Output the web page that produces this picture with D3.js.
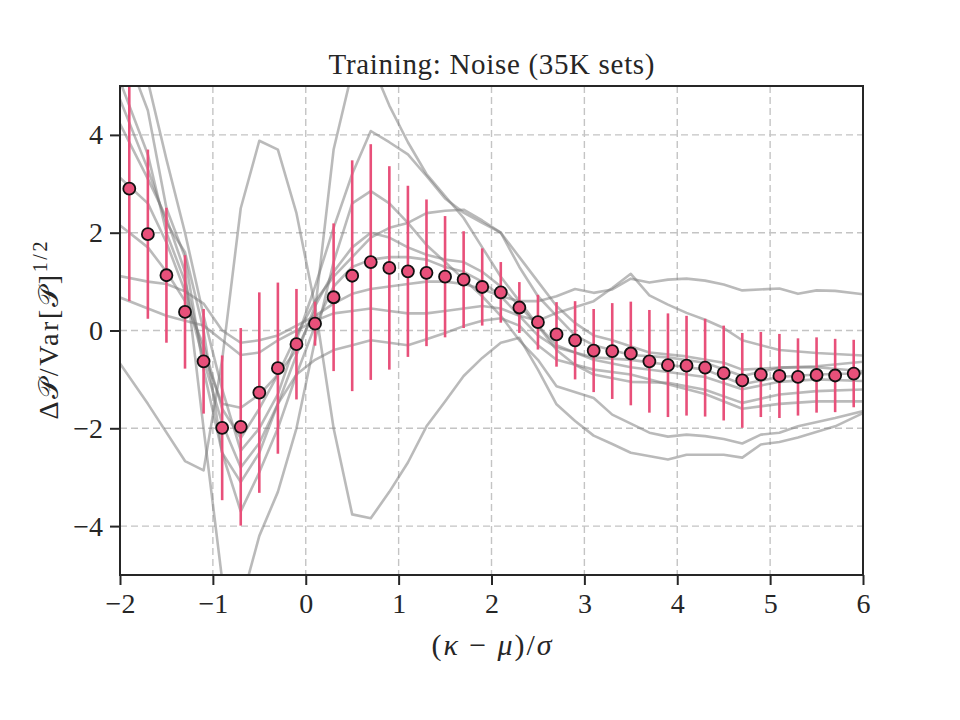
<!DOCTYPE html>
<html>
<head>
<meta charset="utf-8">
<script src="https://cdn.jsdelivr.net/npm/d3@7"></script>
<style>
  body { margin: 0; background: #fff; }
  text { font-family: "Liberation Serif", "DejaVu Serif", serif; fill: #262626; }
</style>
</head>
<body>
<script>
// bin centres and binned mean / 1-sigma spread
const binX = [-1.9, -1.7, -1.5, -1.3, -1.1, -0.9, -0.7, -0.5, -0.3, -0.1,
              0.1, 0.3, 0.5, 0.7, 0.9, 1.1, 1.3, 1.5, 1.7, 1.9,
              2.1, 2.3, 2.5, 2.7, 2.9, 3.1, 3.3, 3.5, 3.7, 3.9,
              4.1, 4.3, 4.5, 4.7, 4.9, 5.1, 5.3, 5.5, 5.7, 5.9];
const meanY = [2.90, 1.97, 1.13, 0.38, -0.63, -1.99, -1.97, -1.27, -0.77, -0.28,
               0.14, 0.68, 1.12, 1.40, 1.28, 1.21, 1.18, 1.10, 1.04, 0.89,
               0.78, 0.47, 0.17, -0.08, -0.20, -0.41, -0.42, -0.47, -0.63, -0.71,
               -0.72, -0.76, -0.87, -1.02, -0.90, -0.93, -0.95, -0.91, -0.92, -0.88];
const errY = [2.30, 1.73, 1.38, 1.16, 1.07, 1.48, 2.02, 2.05, 1.75, 1.13,
              0.45, 1.51, 2.36, 2.41, 2.08, 1.75, 1.50, 1.24, 0.99, 0.79,
              0.62, 0.52, 0.56, 0.66, 0.80, 0.85, 0.98, 1.06, 1.05, 1.06,
              1.02, 1.00, 0.97, 0.97, 0.87, 0.86, 0.79, 0.77, 0.75, 0.69];

// individual noise realisations (grey), [x, y] vertices
const noiseA = [[-2.1, -0.4], [-1.7, -1.5], [-1.3, -2.67], [-1.1, -2.86], [-0.9, -0.6], [-0.7, 2.5], [-0.5, 3.88],
  [-0.3, 3.7], [-0.1, 2.4], [0.1, 0.5], [0.3, -2.0], [0.5, -3.76], [0.7, -3.84], [0.9, -3.3], [1.1, -2.7],
  [1.3, -1.96], [1.5, -1.45], [1.7, -0.93], [1.9, -0.56], [2.1, -0.25], [2.3, -0.15], [2.5, -0.8], [2.7, -1.51],
  [2.9, -1.85], [3.1, -2.15], [3.3, -2.32], [3.5, -2.5], [3.9, -2.64], [4.1, -2.54], [4.5, -2.54], [4.7, -2.6],
  [4.9, -2.33], [5.1, -2.28], [5.3, -2.19], [5.7, -1.96], [6.1, -1.6]];
const noiseB = [[-2.1, 4.6], [-1.7, 3.1], [-1.5, 2.3], [-1.3, 1.2], [-1.1, -2.0], [-0.9, -5.1], [-0.7, -5.6],
  [-0.5, -4.2], [-0.3, -3.3], [-0.1, -2.0], [0.1, -0.2], [0.3, 1.4], [0.5, 2.6], [0.7, 2.85], [0.9, 2.6],
  [1.1, 2.2], [1.3, 1.75], [1.5, 1.4], [1.7, 1.05], [1.9, 0.7], [2.1, 0.3], [2.3, -0.2], [2.5, -0.6],
  [2.7, -1.14], [3.1, -1.38], [3.3, -1.72], [3.7, -2.09], [3.9, -2.17], [4.1, -2.13], [4.3, -2.16],
  [4.5, -2.22], [4.7, -2.31], [4.9, -2.13], [5.1, -2.09], [5.3, -1.96], [5.7, -1.79], [6.1, -1.6]];
const noiseC = [[-2.1, 5.6], [-1.7, 3.6], [-1.5, 2.0], [-1.3, 1.0], [-1.1, -0.5], [-0.9, -1.5], [-0.7, -1.58],
  [-0.5, -1.31], [-0.3, -0.9], [-0.1, -0.4], [0.1, 0.4], [0.3, 3.7], [0.5, 5.3], [0.7, 5.5], [0.9, 4.6],
  [1.1, 3.85], [1.3, 3.2], [1.5, 2.75], [1.7, 2.3], [1.9, 1.7], [2.1, 1.1], [2.3, 0.6], [2.5, 0.1],
  [2.7, -0.4], [2.9, -0.7], [3.1, -0.9], [3.5, -1.05], [3.9, -1.07], [4.3, -1.21], [4.7, -1.48],
  [5.1, -1.31], [5.5, -1.24], [6.1, -1.2]];
const noiseD = [[-2.1, 7.0], [-1.7, 5.1], [-1.5, 3.5], [-1.3, 2.0], [-1.1, 0.3], [-0.9, -1.2], [-0.7, -2.46],
  [-0.5, -2.0], [-0.3, -1.3], [-0.1, -0.2], [0.1, 0.9], [0.3, 2.1], [0.5, 3.2], [0.7, 4.08], [0.9, 3.85],
  [1.1, 3.6], [1.3, 3.16], [1.5, 2.7], [1.7, 2.41], [1.9, 2.2], [2.1, 2.0], [2.3, 1.3], [2.5, 0.7],
  [2.7, 0.3], [2.9, -0.1], [3.1, -0.3], [3.5, -0.5], [3.9, -0.55], [4.3, -0.66], [4.7, -0.93],
  [5.1, -0.76], [5.5, -0.73], [6.1, -0.62]];
const noiseE = [[-2.1, 2.3], [-1.7, 1.7], [-1.5, 1.2], [-1.3, 0.6], [-1.1, -0.3], [-0.9, -1.6], [-0.7, -2.2],
  [-0.5, -1.6], [-0.3, -0.9], [-0.1, -0.1], [0.1, 0.6], [0.3, 1.1], [0.5, 1.5], [0.7, 1.9], [0.9, 2.1],
  [1.1, 2.2], [1.3, 2.4], [1.5, 2.45], [1.7, 2.47], [1.9, 2.25], [2.1, 2.0], [2.3, 1.5], [2.5, 1.0],
  [2.7, 0.5], [2.9, 0.15], [3.1, -0.1], [3.3, -0.2], [3.7, -0.45], [4.1, -0.53], [4.5, -0.66],
  [4.7, -0.8], [5.1, -0.76], [5.5, -0.75], [6.1, -0.85]];
const noiseF = [[-2.1, 1.15], [-1.7, 1.0], [-1.5, 0.95], [-1.3, 0.8], [-1.1, 0.55], [-0.9, 0.0], [-0.7, -0.25],
  [-0.5, -0.2], [-0.3, -0.1], [-0.1, 0.1], [0.1, 0.3], [0.3, 0.55], [0.5, 0.75], [0.7, 0.85], [0.9, 0.9],
  [1.1, 0.95], [1.3, 1.0], [1.5, 1.0], [1.7, 0.95], [1.9, 0.85], [2.1, 0.7], [2.3, 0.6], [2.5, 0.6],
  [2.7, 0.7], [2.9, 0.85], [3.1, 0.77], [3.3, 0.84], [3.5, 1.06], [3.7, 0.98], [3.9, 1.04], [4.1, 1.06],
  [4.3, 1.02], [4.5, 0.94], [4.7, 0.82], [5.1, 0.86], [5.3, 0.75], [5.5, 0.82], [5.7, 0.81], [6.1, 0.72]];
const noiseG = [[-2.1, 0.75], [-1.7, 0.45], [-1.5, 0.3], [-1.3, 0.2], [-1.1, 0.1], [-0.9, -0.2], [-0.7, -0.5],
  [-0.5, -0.45], [-0.3, -0.2], [-0.1, 0.0], [0.1, 0.2], [0.3, 0.35], [0.5, 0.4], [0.7, 0.45], [0.9, 0.4],
  [1.1, 0.35], [1.3, 0.35], [1.5, 0.4], [1.7, 0.45], [1.9, 0.5], [2.1, 0.45], [2.3, 0.3], [2.5, 0.2],
  [2.7, 0.36], [3.1, 0.6], [3.3, 0.87], [3.5, 1.16], [3.7, 0.72], [3.9, 0.53], [4.1, 0.36], [4.3, 0.22],
  [4.5, 0.05], [4.7, -0.2], [5.1, -0.4], [5.5, -0.46], [6.1, -0.52]];
const noiseH = [[-2.1, 6.5], [-1.7, 4.5], [-1.5, 2.5], [-1.3, 1.5], [-1.1, -0.8], [-0.9, -2.5], [-0.7, -3.1],
  [-0.5, -2.5], [-0.3, -1.5], [-0.1, -0.5], [0.1, 0.5], [0.3, 1.2], [0.5, 1.7], [0.7, 2.0], [0.9, 1.9],
  [1.1, 1.7], [1.3, 1.55], [1.5, 1.45], [1.7, 1.4], [1.9, 1.2], [2.1, 0.9], [2.3, 0.5], [2.5, 0.1],
  [2.7, -0.3], [3.1, -0.6], [3.5, -0.75], [3.9, -0.85], [4.3, -0.95], [4.7, -1.2], [5.1, -1.05],
  [5.5, -1.0], [6.1, -1.04]];
const noiseI = [[-2.1, 5.2], [-1.7, 3.3], [-1.5, 2.2], [-1.3, 1.6], [-1.1, 0.0], [-0.9, -2.5], [-0.7, -3.7],
  [-0.5, -2.9], [-0.3, -2.0], [-0.1, -0.9], [0.1, 0.1], [0.3, 0.9], [0.5, 1.3], [0.7, 1.45], [0.9, 1.5],
  [1.1, 1.5], [1.3, 1.45], [1.5, 1.3], [1.7, 1.2], [1.9, 1.0], [2.1, 0.7], [2.3, 0.3], [2.5, -0.1],
  [2.7, -0.35], [3.1, -0.55], [3.5, -0.6], [3.9, -0.7], [4.3, -0.8], [4.7, -1.1], [5.1, -0.95],
  [5.5, -0.9], [6.1, -0.87]];
const noiseJ = [[-2.1, 3.3], [-1.7, 2.6], [-1.5, 1.8], [-1.3, 0.8], [-1.1, -0.6], [-0.9, -1.9], [-0.7, -2.8],
  [-0.5, -2.3], [-0.3, -1.5], [-0.1, -0.9], [0.1, -0.6], [0.3, -0.4], [0.5, -0.3], [0.7, -0.2], [0.9, -0.25],
  [1.1, -0.3], [1.3, -0.18], [1.5, -0.05], [1.7, 0.09], [1.9, 0.2], [2.1, 0.25], [2.3, 0.1], [2.5, -0.3],
  [2.7, -0.6], [3.1, -0.8], [3.5, -0.9], [3.9, -1.1], [4.3, -1.3], [4.7, -1.6], [5.1, -1.5],
  [5.5, -1.45], [6.1, -1.45]];
const noiseLines = [noiseA, noiseB, noiseC, noiseD, noiseE, noiseF, noiseG, noiseH, noiseI, noiseJ];

const xTicks = [-2, -1, 0, 1, 2, 3, 4, 5, 6];
const yTicks = [-4, -2, 0, 2, 4];

const W = 960, H = 720;
const margin = { top: 86, right: 97, bottom: 145, left: 120 };
const PINK = '#e8507a';
const FONT = '"Liberation Serif", "DejaVu Serif", serif';

const svg = d3.select('body').append('svg')
    .attr('width', W)
    .attr('height', H);

const x = d3.scaleLinear().domain([-2, 6]).range([margin.left, W - margin.right]);
const y = d3.scaleLinear().domain([-5, 5]).range([H - margin.bottom, margin.top]);

svg.append('clipPath').attr('id', 'plot-clip')
  .append('rect')
    .attr('x', x(-2)).attr('y', y(5))
    .attr('width', x(6) - x(-2)).attr('height', y(-5) - y(5));

// dashed grid
const grid = svg.append('g').attr('stroke', '#c4c4c4').attr('stroke-width', 1.4).attr('stroke-dasharray', '7,4');
grid.selectAll('.gx').data(xTicks).join('line')
    .attr('x1', d => x(d)).attr('x2', d => x(d))
    .attr('y1', y(5)).attr('y2', y(-5));
grid.selectAll('.gy').data(yTicks).join('line')
    .attr('x1', x(-2)).attr('x2', x(6))
    .attr('y1', d => y(d)).attr('y2', d => y(d));

const plot = svg.append('g').attr('clip-path', 'url(#plot-clip)');

const line = d3.line()
    .x(d => x(d[0]))
    .y(d => y(d[1]));

plot.selectAll('.noise').data(noiseLines).join('path')
    .attr('class', 'noise')
    .attr('d', line)
    .attr('fill', 'none')
    .attr('stroke', '#7a7a7a')
    .attr('stroke-opacity', 0.52)
    .attr('stroke-width', 2.6)
    .attr('stroke-linejoin', 'round');

const pts = binX.map((v, i) => ({ x: v, m: meanY[i], e: errY[i] }));

plot.selectAll('.err').data(pts).join('line')
    .attr('class', 'err')
    .attr('x1', d => x(d.x)).attr('x2', d => x(d.x))
    .attr('y1', d => y(d.m - d.e)).attr('y2', d => y(d.m + d.e))
    .attr('stroke', PINK)
    .attr('stroke-width', 2.6);

plot.selectAll('.pt').data(pts).join('circle')
    .attr('class', 'pt')
    .attr('cx', d => x(d.x))
    .attr('cy', d => y(d.m))
    .attr('r', 6)
    .attr('fill', PINK)
    .attr('stroke', '#111')
    .attr('stroke-width', 1.8);

// axes
const fmt = d3.format('d');
const xAxis = svg.append('g')
    .attr('transform', `translate(0,${y(-5)})`)
    .call(d3.axisBottom(x).tickValues(xTicks).tickFormat(fmt).tickSize(10).tickPadding(8));
const yAxis = svg.append('g')
    .attr('transform', `translate(${x(-2)},0)`)
    .call(d3.axisLeft(y).tickValues(yTicks).tickFormat(fmt).tickSize(10).tickPadding(7));

[xAxis, yAxis].forEach(ax => {
    ax.select('.domain').remove();
    ax.selectAll('.tick line').attr('stroke', '#262626').attr('stroke-width', 2);
    ax.selectAll('.tick text')
        .attr('fill', '#262626')
        .style('font-family', FONT)
        .style('font-size', '28px');
});

// frame
svg.append('rect')
    .attr('x', x(-2)).attr('y', y(5))
    .attr('width', x(6) - x(-2)).attr('height', y(-5) - y(5))
    .attr('fill', 'none')
    .attr('stroke', '#262626')
    .attr('stroke-width', 2);

// title
svg.append('text')
    .attr('x', (x(-2) + x(6)) / 2)
    .attr('y', 74)
    .attr('text-anchor', 'middle')
    .attr('textLength', 326)
    .style('font-size', '29px')
    .text('Training: Noise (35K sets)');

// x label
const xl = svg.append('text')
    .attr('x', (x(-2) + x(6)) / 2)
    .attr('y', 655)
    .attr('text-anchor', 'middle')
    .attr('textLength', 120)
    .style('font-size', '30px');
xl.append('tspan').text('(');
xl.append('tspan').attr('font-style', 'italic').text('κ');
xl.append('tspan').text(' − ');
xl.append('tspan').attr('font-style', 'italic').text('μ');
xl.append('tspan').text(')/');
xl.append('tspan').attr('font-style', 'italic').text('σ');

// y label
const yl = svg.append('text')
    .attr('transform', `translate(58,${(y(5) + y(-5)) / 2}) rotate(-90)`)
    .attr('text-anchor', 'middle')
    .attr('textLength', 178)
    .style('font-size', '28px');
yl.append('tspan').text('Δ');
yl.append('tspan').text('𝒫');
yl.append('tspan').text('/Var[');
yl.append('tspan').text('𝒫');
yl.append('tspan').text(']');
yl.append('tspan').attr('dy', -11).style('font-size', '20px').text('1/2');
</script>
</body>
</html>
